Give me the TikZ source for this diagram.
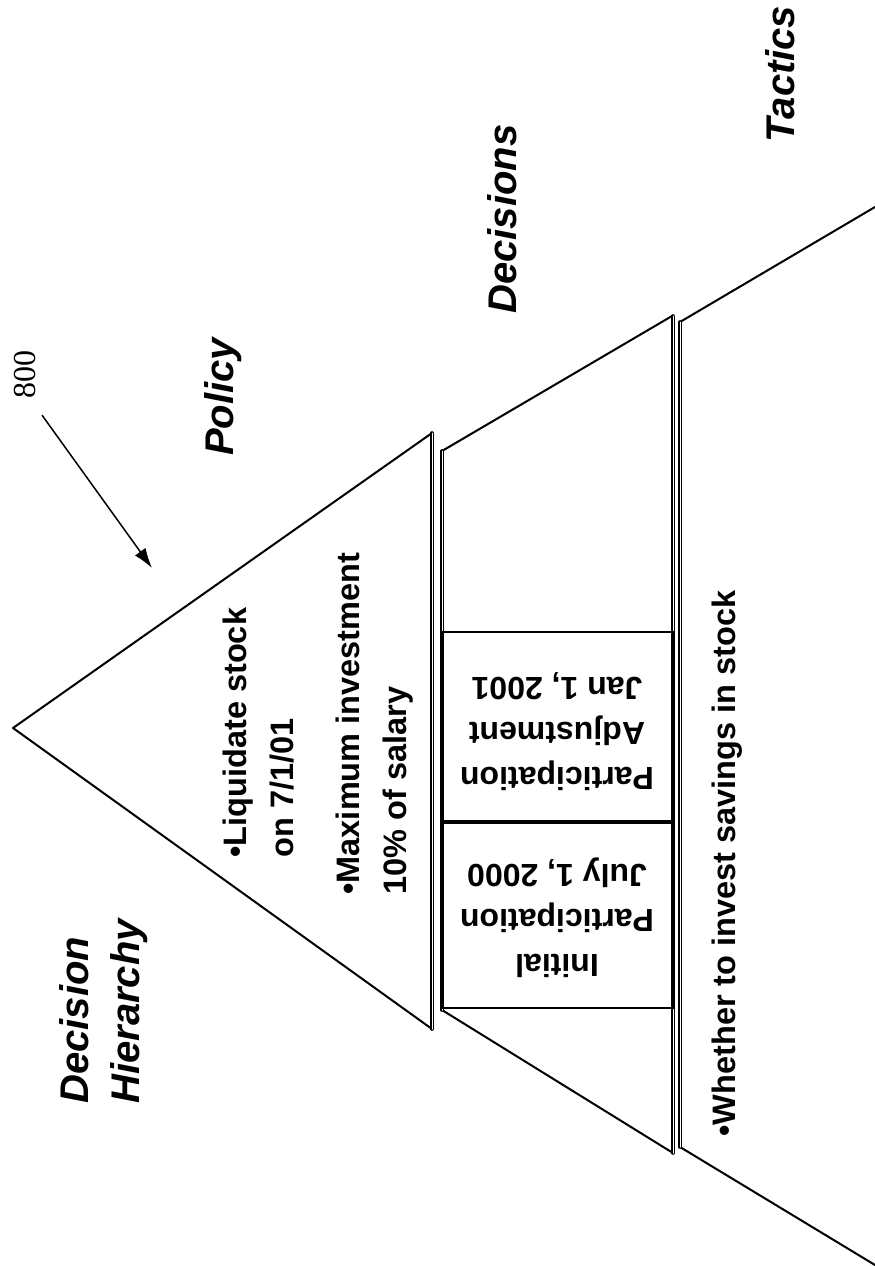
\documentclass[tikz,border=0pt]{standalone}
\usepackage{fontspec}
\setmainfont{Liberation Sans}
\newfontfamily\refnumfont{Liberation Serif}
\usetikzlibrary{arrows.meta}

\begin{document}
\begin{tikzpicture}[x=1pt,y=-1pt,thick,line cap=round]
	\tikzstyle{edge}=[line width=2pt];
	\tikzstyle{rim}=[double,line width=1.3pt,double distance=1pt];
	\tikzstyle{head}=[rotate=90,font=\fontsize{40}{51}\selectfont\bfseries\itshape,align=left,inner sep=0pt];
	\tikzstyle{item}=[rotate=90,anchor=west,font=\fontsize{32.5}{47}\selectfont\bfseries,align=left,inner sep=0pt];
	\tikzstyle{slot}=[rotate=180,font=\fontsize{32}{45}\selectfont\bfseries,align=center,inner sep=0pt];
	\tikzstyle{pointer}=[line width=1.5pt,-{Latex[length=20pt,width=13pt]}];

	\fill[white] (0,0) rectangle (875,1266);
	\useasboundingbox (0,0) rectangle (875,1266);

	% policy triangle
	\draw[edge] (13,728) -- (432,433);
	\draw[edge] (13,728) -- (432,1029);
	\draw[rim] (432,433) -- (432,1029);

	% decisions band
	\draw[edge] (442,451) -- (672,316);
	\draw[edge] (442,1010) -- (673,1153);
	\draw[rim] (442,451) -- (442,1010);
	\draw[rim] (673,316) -- (673,1153);

	% tactics band
	\draw[edge] (680,322) -- (875,207);
	\draw[edge] (680,1147) -- (875,1265);
	\draw[rim] (680,322) -- (680,1147);

	% the two boxes
	\draw[edge] (442,632) rectangle (673,1008);
	\draw[line width=3.5pt] (442,822) -- (673,822);
	\draw[line width=3pt] (672,632) -- (672,1008);

	\node[head] (policy) at (223,397) {Policy};
	\node[head] (decisions) at (502,219) {Decisions};
	\node[head] (tactics) at (780,74) {Tactics};
	\node[head,anchor=west] (hier) at (104,1104) {Decision\\Hierarchy};

	\node[item] (liquidate) at (259,858) {•Liquidate stock\\on 7/1/01};
	\node[item] (maxinv) at (375,895) {•Maximum investment\\10\% of salary};
	\node[item] (whether) at (727,1137) {•Whether to invest savings in stock};

	\node[slot] (adjust) at (557,732) {Participation\\Adjustment\\Jan 1, 2001};
	\node[slot] (initial) at (557,918) {Initial\\Participation\\July 1, 2000};

	\node[rotate=90,font=\refnumfont\fontsize{32}{32}\selectfont,inner sep=6pt] (num) at (25,374) {800};
	\coordinate (aim) at (152,568);
	\draw[pointer] ([yshift=-11pt]num.south west) -- (aim);
\end{tikzpicture}
\end{document}
